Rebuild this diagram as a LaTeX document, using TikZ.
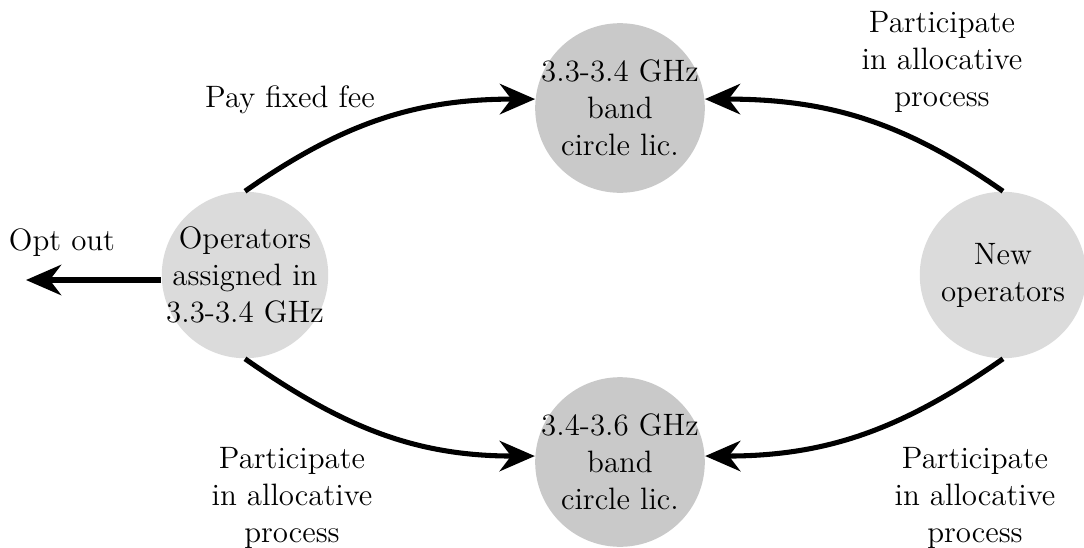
\documentclass[tikz,border=0pt]{standalone}
\usepackage{tikz}
\usetikzlibrary{arrows.meta, positioning}
\usepackage{xcolor}
\tikzset{
  % circles
  grpvtx/.style ={circle, minimum size=2.08cm, inner sep=-12pt, fill=black!14,
                  align=center, font=\fontsize{11}{13.2}\selectfont},
  bandvtx/.style={circle, minimum size=2.12cm, inner sep=-12pt, fill=black!21,
                  align=center, font=\fontsize{11}{13.2}\selectfont},
  flow/.style   ={-{Stealth[length=4.4mm, width=3.8mm]}, line width=1.8pt},
  elbl/.style   ={align=center, font=\fontsize{11}{13.2}\selectfont},
}
\begin{document}
\begin{tikzpicture}[x=0.0125cm, y=-0.0125cm]
  \useasboundingbox (0,0) rectangle (1084,548);
  \node[grpvtx]  (ops)    at (245,275)  {Operators\\assigned in\\3.3-3.4 GHz};
  \node[grpvtx]  (newops) at (1003,275) {New\\operators};
  \node[bandvtx] (bandlo) at (620,108)  {3.3-3.4 GHz\\band\\circle lic.};
  \node[bandvtx] (bandhi) at (620,462)  {3.4-3.6 GHz\\band\\circle lic.};
  \coordinate (optend) at (26,280);
  \draw[flow] (ops.west |- optend) -- (optend);
  \draw[flow] (ops.north) to[out=35, in=180] (bandlo.174);
  \draw[flow] (newops.north) to[out=145, in=0] (bandlo.6);
  \draw[flow] (ops.south) to[out=-35, in=180] (bandhi.176);
  \draw[flow] (newops.south) to[out=-145, in=0] (bandhi.4);
  \node[elbl] (optlbl) at (62,243)  {Opt out};
  \node[elbl] (feelbl) at (290,100) {Pay fixed fee};
  \node[elbl] (nwlbl)  at (942,62)  {Participate\\in allocative\\process};
  \node[elbl] (oplbl)  at (292,498) {Participate\\in allocative\\process};
  \node[elbl] (nblbl)  at (975,498) {Participate\\in allocative\\process};
\end{tikzpicture}
\end{document}
